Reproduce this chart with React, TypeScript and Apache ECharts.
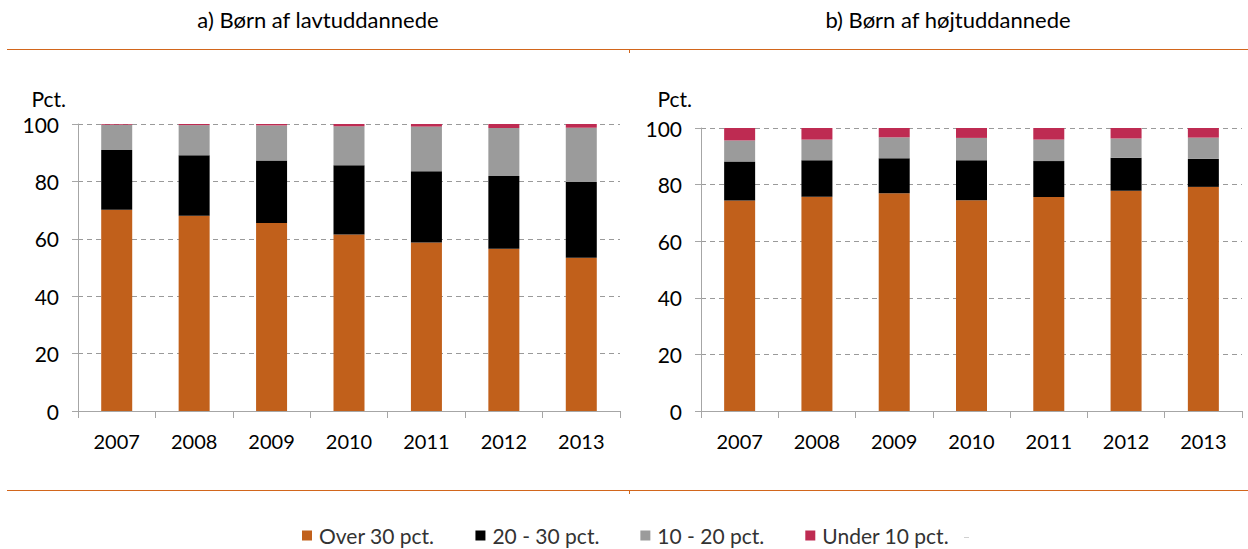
import React, { useEffect, useRef } from "react";
import * as echarts from "echarts";

const years = ["2007", "2008", "2009", "2010", "2011", "2012", "2013"];
const seriesNames = ["Over 30 pct.", "20 - 30 pct.", "10 - 20 pct.", "Under 10 pct."];
const colors = ["#C1601B", "#000000", "#9B9B9B", "#BE2B52"];

// a) Børn af lavtuddannede
const lowOver30 = [70.1, 68.0, 65.5, 61.5, 58.7, 56.5, 53.4];
const low20to30 = [20.8, 21.1, 21.8, 24.1, 24.8, 25.4, 26.4];
const low10to20 = [8.8, 10.5, 12.2, 13.6, 15.6, 16.7, 18.9];
const lowUnder10 = [0.3, 0.4, 0.5, 0.8, 0.9, 1.4, 1.3];

// b) Børn af højtuddannede
const highOver30 = [74.4, 75.7, 76.9, 74.5, 75.6, 77.8, 79.2];
const high20to30 = [13.8, 12.9, 12.4, 14.1, 12.7, 11.7, 9.9];
const high10to20 = [7.4, 7.3, 7.4, 7.9, 7.6, 6.8, 7.5];
const highUnder10 = [4.4, 4.1, 3.3, 3.5, 4.1, 3.7, 3.4];

const yTicks = { min: 0, max: 100, interval: 20 };
const titles = ["a) Børn af lavtuddannede", "b) Børn af højtuddannede"];
const yUnit = "Pct.";

const FONT = "Lato";

export default function App() {
  const ref = useRef<HTMLDivElement>(null);
  useEffect(() => {
    if (!ref.current) return;
    const chart = echarts.init(ref.current, null, { renderer: "svg" });
    const lowData = [lowOver30, low20to30, low10to20, lowUnder10];
    const highData = [highOver30, high20to30, high10to20, highUnder10];

    const xAxisBase = (gridIndex: number) => ({
      type: "category",
      gridIndex,
      data: years,
      axisLine: { show: true, lineStyle: { color: "#A6A6A6", width: 1 } },
      axisTick: { show: true, length: 7, lineStyle: { color: "#A6A6A6" } },
      axisLabel: { color: "#000", fontSize: 20, fontFamily: FONT, margin: 20 },
    });
    const yAxisBase = (gridIndex: number) => ({
      type: "value",
      gridIndex,
      ...yTicks,
      axisLine: { show: true, lineStyle: { color: "#A6A6A6", width: 1 } },
      axisTick: { show: true, length: 6, lineStyle: { color: "#A6A6A6" } },
      axisLabel: { color: "#000", fontSize: 21, fontFamily: FONT, margin: 19 },
      splitLine: { show: true, lineStyle: { color: "#9A9A9A", type: [5, 4], width: 1 } },
    });

    const series: any[] = [];
    seriesNames.forEach((name, i) => {
      series.push({
        name,
        type: "bar",
        stack: "a",
        xAxisIndex: 0,
        yAxisIndex: 0,
        barWidth: 31,
        data: lowData[i],
        itemStyle: { color: colors[i] },
      });
    });
    seriesNames.forEach((name, i) => {
      series.push({
        name,
        type: "bar",
        stack: "b",
        xAxisIndex: 1,
        yAxisIndex: 1,
        barWidth: 31,
        data: highData[i],
        itemStyle: { color: colors[i] },
      });
    });

    const titleStyle = { fontSize: 22, fontWeight: "normal", color: "#000", fontFamily: FONT };

    chart.setOption({
      animation: false,
      textStyle: { fontFamily: FONT },
      title: [
        { text: titles[0], left: 313, top: 3, textAlign: "center", textStyle: titleStyle },
        { text: titles[1], left: 943, top: 3, textAlign: "center", textStyle: titleStyle },
      ],
      grid: [
        { left: 78, right: 628, top: 124, bottom: 138 },
        { left: 701, right: 6, top: 128, bottom: 138 },
      ],
      xAxis: [xAxisBase(0), xAxisBase(1)],
      yAxis: [yAxisBase(0), yAxisBase(1)],
      legend: {
        data: seriesNames,
        top: 525,
        left: 302,
        padding: 0,
        itemWidth: 10,
        itemHeight: 10,
        itemGap: 41,
        icon: "rect",
        textStyle: { color: "#333", fontSize: 21, fontFamily: FONT, padding: [0, 0, 0, 2] },
      },
      graphic: [
        { type: "line", shape: { x1: 7, y1: 49.5, x2: 1248, y2: 49.5 }, style: { stroke: "#D2661C", lineWidth: 1 } },
        { type: "line", shape: { x1: 629.5, y1: 49, x2: 629.5, y2: 53 }, style: { stroke: "#D2661C", lineWidth: 1 } },
        { type: "line", shape: { x1: 7, y1: 490.5, x2: 1248, y2: 490.5 }, style: { stroke: "#D2661C", lineWidth: 1 } },
        { type: "line", shape: { x1: 629.5, y1: 490, x2: 629.5, y2: 494 }, style: { stroke: "#D2661C", lineWidth: 1 } },
        { type: "text", x: 66, y: 88, style: { text: yUnit, fill: "#000", font: `21px ${FONT}`, align: "right" } },
        { type: "text", x: 692, y: 88, style: { text: yUnit, fill: "#000", font: `21px ${FONT}`, align: "right" } },
        { type: "rect", shape: { x: 964, y: 537, width: 5, height: 1 }, style: { fill: "#D0D0D0" } },
      ],
      series,
    });
    return () => chart.dispose();
  }, []);
  return <div ref={ref} style={{ width: 1248, height: 549, position: "absolute", left: 0, top: 0 }} />;
}
